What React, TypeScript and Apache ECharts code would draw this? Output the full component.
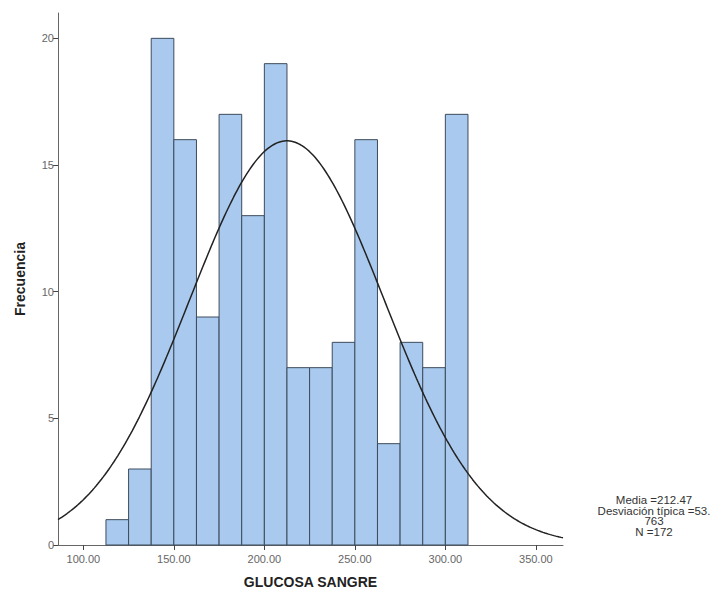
import React, { useEffect, useRef } from "react";
import * as echarts from "echarts";

const binStarts = [112.5, 125, 137.5, 150, 162.5, 175, 187.5, 200, 212.5, 225, 237.5, 250, 262.5, 275, 287.5, 300];
const counts = [1, 3, 20, 16, 9, 17, 13, 19, 7, 7, 8, 16, 4, 8, 7, 17];
const BIN_WIDTH = 12.5;
const MEAN = 212.47;
const SD = 53.763;
const N = 172;
const xTicks = [100, 150, 200, 250, 300, 350];
const yTicks = [0, 5, 10, 15, 20];
const statLines = ["Media =212.47", "Desviación típica =53.", "763", "N =172"];
const X_MIN = 86;
const X_MAX = 365;

export default function App() {
  const ref = useRef<HTMLDivElement>(null);
  useEffect(() => {
    if (!ref.current) return;
    const chart = echarts.init(ref.current, null, { renderer: "svg" });
    const histData = binStarts.map((s, i) => [s, s + BIN_WIDTH, counts[i]]);
    const curve: number[][] = [];
    for (let x = X_MIN; x <= X_MAX + 0.001; x += 1) {
      const z = (x - MEAN) / SD;
      curve.push([x, (N * BIN_WIDTH) / (SD * Math.sqrt(2 * Math.PI)) * Math.exp(-0.5 * z * z)]);
    }
    chart.setOption({
      animation: false,
      backgroundColor: "#ffffff",
      grid: { left: 58, right: 160, top: 13, bottom: 48, containLabel: false },
      xAxis: {
        type: "value",
        min: X_MIN,
        max: X_MAX,
        name: "GLUCOSA SANGRE",
        nameLocation: "middle",
        nameGap: 30,
        nameTextStyle: { fontFamily: "Liberation Sans", fontWeight: "bold", fontSize: 14, color: "#222" },
        axisLine: { show: true, lineStyle: { color: "#666", width: 1 } },
        axisTick: { show: true, length: 5, customValues: xTicks, lineStyle: { color: "#444" } },
        axisLabel: {
          customValues: xTicks,
          formatter: (v: number) => v.toFixed(2),
          fontFamily: "Liberation Sans",
          fontSize: 11,
          color: "#666",
          margin: 8,
        },
        splitLine: { show: false },
      },
      yAxis: {
        type: "value",
        min: 0,
        max: 21,
        name: "Frecuencia",
        nameLocation: "middle",
        nameGap: 31,
        nameRotate: 90,
        nameTextStyle: { fontFamily: "Liberation Sans", fontWeight: "bold", fontSize: 14, color: "#222" },
        axisLine: { show: true, lineStyle: { color: "#666", width: 1 } },
        axisTick: { show: true, length: 5, customValues: yTicks, lineStyle: { color: "#444" } },
        axisLabel: {
          customValues: yTicks,
          fontFamily: "Liberation Sans",
          fontSize: 11,
          color: "#666",
          margin: 4,
        },
        splitLine: { show: false },
      },
      series: [
        {
          type: "custom",
          data: histData,
          encode: { x: [0, 1], y: 2 },
          renderItem: (params: any, api: any) => {
            const p0 = api.coord([api.value(0), api.value(2)]);
            const p1 = api.coord([api.value(1), 0]);
            return {
              type: "rect",
              shape: { x: p0[0], y: p0[1], width: p1[0] - p0[0], height: p1[1] - p0[1] },
              style: { fill: "#a9caee", stroke: "#3d4b5c", lineWidth: 1 },
            };
          },
          z: 2,
        },
        {
          type: "line",
          data: curve,
          showSymbol: false,
          smooth: false,
          lineStyle: { color: "#222", width: 1.5 },
          z: 3,
        },
      ],
      graphic: [
        {
          type: "text",
          x: 654,
          y: 495,
          style: {
            text: statLines.join("\n"),
            fontFamily: "Liberation Sans",
            fontSize: 11.5,
            lineHeight: 10.5,
            fill: "#333",
            textAlign: "center",
            textVerticalAlign: "top",
          },
        },
      ],
    });
    return () => chart.dispose();
  }, []);
  return <div ref={ref} style={{ position: "fixed", left: 0, top: 0, width: 723, height: 594 }} />;
}
